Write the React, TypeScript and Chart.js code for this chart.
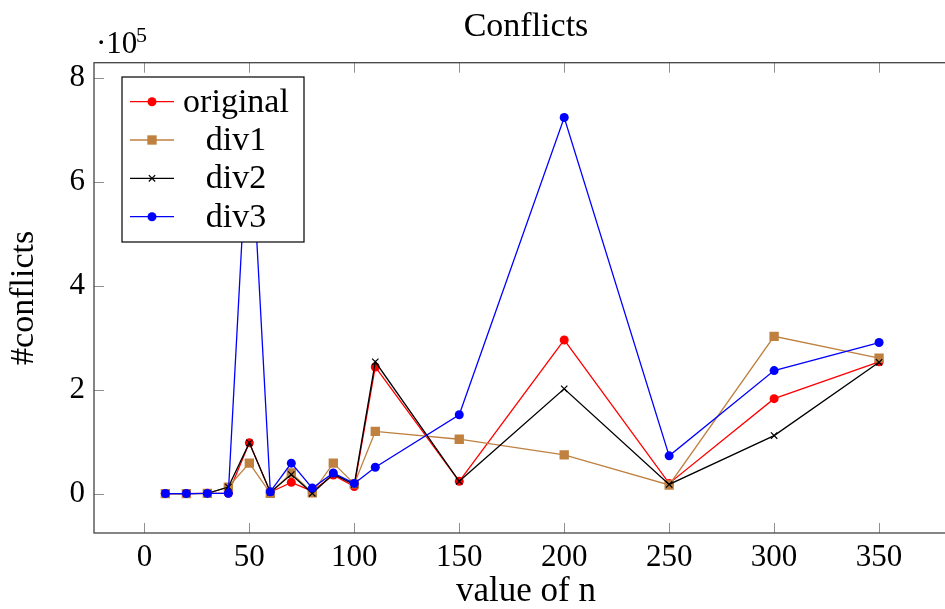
import React, { useEffect, useRef } from 'react';
import { Chart, registerables } from 'chart.js';

Chart.register(...registerables);

// ---- data ----
const nValues = [10, 20, 30, 40, 50, 60, 70, 80, 90, 100, 110, 150, 200, 250, 300, 350];
const original = [500, 500, 1000, 1000, 98000, 3000, 22000, 5000, 36000, 14000, 244000, 24000, 296000, 20000, 183000, 254000];
const div1 = [500, 500, 800, 13000, 59000, 1000, 40000, 2000, 59000, 19000, 120000, 105000, 75000, 17000, 303000, 261000];
const div2 = [500, 500, 800, 13000, 98000, 3000, 37000, 1000, 38000, 18000, 254000, 24000, 202000, 18000, 112000, 253000];
const div3 = [500, 500, 800, 1000, 754000, 4000, 59000, 11000, 40000, 20000, 51000, 152000, 724000, 73000, 237000, 291000];
const seriesNames = ['original', 'div1', 'div2', 'div3'];
const xTickValues = [0, 50, 100, 150, 200, 250, 300, 350];
const yTickValues = [0, 200000, 400000, 600000, 800000];
const titleText = 'Conflicts';
const xTitle = 'value of n';
const yTitle = '#conflicts';

const X_MIN = -24;
const X_MAX = 387.6;
const Y_MIN = -75400;
const Y_MAX = 829400;

const FONT = "'Liberation Serif', 'Times New Roman', serif";
const COLORS = ['#ff0000', '#bf8040', '#000000', '#0000ff'];
const STYLES = ['circle', 'rect', 'crossRot', 'circle'];
const RADII = [4.5, 6.6, 4.5, 4.5];

function drawMarker(ctx: CanvasRenderingContext2D, style: string, x: number, y: number, r: number, color: string) {
  ctx.save();
  ctx.fillStyle = color;
  ctx.strokeStyle = color;
  if (style === 'circle') {
    ctx.beginPath();
    ctx.arc(x, y, r, 0, Math.PI * 2);
    ctx.fill();
  } else if (style === 'rect') {
    const s = Math.SQRT1_2 * r;
    ctx.fillRect(x - s, y - s, 2 * s, 2 * s);
  } else {
    const s = Math.SQRT1_2 * r;
    ctx.lineWidth = 1.2;
    ctx.beginPath();
    ctx.moveTo(x - s, y - s);
    ctx.lineTo(x + s, y + s);
    ctx.moveTo(x - s, y + s);
    ctx.lineTo(x + s, y - s);
    ctx.stroke();
  }
  ctx.restore();
}

const decorPlugin = {
  id: 'decor',
  afterDatasetsDraw(chart: any) {
    const { ctx, chartArea: a, scales } = chart;
    ctx.save();
    // inward tick marks
    ctx.strokeStyle = '#909090';
    ctx.lineWidth = 1;
    ctx.beginPath();
    for (const v of xTickValues) {
      const px = Math.round(scales.x.getPixelForValue(v)) + 0.5;
      ctx.moveTo(px, a.top);
      ctx.lineTo(px, a.top + 10);
      ctx.moveTo(px, a.bottom);
      ctx.lineTo(px, a.bottom - 10);
    }
    for (const v of yTickValues) {
      const py = Math.round(scales.y.getPixelForValue(v)) + 0.5;
      ctx.moveTo(a.left, py);
      ctx.lineTo(a.left + 10, py);
      ctx.moveTo(a.right, py);
      ctx.lineTo(a.right - 10, py);
    }
    ctx.stroke();
    // frame
    ctx.strokeStyle = '#444444';
    ctx.lineWidth = 1.3;
    ctx.strokeRect(a.left, a.top, a.right - a.left, a.bottom - a.top);

    // legend
    const lx = 122, ly = 77, lw = 182, lh = 165;
    ctx.fillStyle = '#ffffff';
    ctx.fillRect(lx, ly, lw, lh);
    ctx.strokeStyle = '#000000';
    ctx.lineWidth = 1.2;
    ctx.strokeRect(lx, ly, lw, lh);
    const rowY = [101.7, 140, 178.3, 216.7];
    ctx.font = `34px ${FONT}`;
    ctx.textAlign = 'center';
    ctx.textBaseline = 'middle';
    seriesNames.forEach((name, i) => {
      const y = rowY[i];
      ctx.strokeStyle = COLORS[i];
      ctx.lineWidth = 1.3;
      ctx.beginPath();
      ctx.moveTo(130, y);
      ctx.lineTo(174, y);
      ctx.stroke();
      drawMarker(ctx, STYLES[i], 152, y, RADII[i], COLORS[i]);
      ctx.fillStyle = '#000000';
      ctx.fillText(name, 236, y + 1);
    });

    // title
    ctx.fillStyle = '#000000';
    ctx.textAlign = 'center';
    ctx.textBaseline = 'alphabetic';
    ctx.font = `34px ${FONT}`;
    ctx.fillText(titleText, (a.left + a.right) / 2, 36);

    // exponent label
    ctx.textAlign = 'left';
    ctx.font = `31px ${FONT}`;
    ctx.fillText('\u00B710', 96, 53);
    ctx.font = `22px ${FONT}`;
    ctx.fillText('5', 136, 42);
    ctx.restore();
  },
};

export default function App() {
  const canvasRef = useRef<HTMLCanvasElement | null>(null);

  useEffect(() => {
    const canvas = canvasRef.current;
    if (!canvas) return;
    const series = [original, div1, div2, div3];
    const datasets = series.map((vals, i) => ({
      label: seriesNames[i],
      data: nValues.map((n, j) => ({ x: n, y: vals[j] })),
      borderColor: COLORS[i],
      backgroundColor: COLORS[i],
      borderWidth: 1.3,
      pointStyle: STYLES[i] as any,
      pointRadius: RADII[i],
      pointBorderWidth: i === 2 ? 1.2 : 0,
      pointBorderColor: COLORS[i],
      pointBackgroundColor: COLORS[i],
      tension: 0,
      fill: false,
      order: 4 - i,
    }));

    const chart = new Chart(canvas, {
      type: 'line',
      data: { datasets },
      options: {
        animation: false,
        responsive: false,
        devicePixelRatio: 1,
        layout: { padding: { left: 0, right: 12, top: 62.7, bottom: 0 } },
        plugins: {
          legend: { display: false },
          title: { display: false },
          tooltip: { enabled: false },
        },
        scales: {
          x: {
            type: 'linear',
            min: X_MIN,
            max: X_MAX,
            grid: { display: false, drawTicks: false },
            border: { display: false },
            afterFit: (s: any) => { s.height = 76; },
            afterBuildTicks: (s: any) => { s.ticks = xTickValues.map((v) => ({ value: v })); },
            ticks: {
              padding: 6,
              color: '#000000',
              font: { family: FONT, size: 31 },
              maxRotation: 0,
              callback: (v: any) => String(v),
            },
            title: {
              display: true,
              text: xTitle,
              color: '#000000',
              font: { family: FONT, size: 35, lineHeight: 1.0 },
              padding: { top: 0, bottom: 0 },
            },
          },
          y: {
            type: 'linear',
            min: Y_MIN,
            max: Y_MAX,
            grid: { display: false, drawTicks: false },
            border: { display: false },
            afterFit: (s: any) => { s.width = 94; },
            afterBuildTicks: (s: any) => { s.ticks = yTickValues.map((v) => ({ value: v })); },
            ticks: {
              padding: 9,
              color: '#000000',
              font: { family: FONT, size: 31 },
              callback: (v: any) => String(Math.round(Number(v) / 100000)),
            },
            title: {
              display: true,
              text: yTitle,
              color: '#000000',
              font: { family: FONT, size: 34 },
              padding: { top: 4, bottom: 0 },
            },
          },
        },
      },
      plugins: [decorPlugin],
    });
    return () => chart.destroy();
  }, []);

  return (
    <div style={{ position: 'fixed', left: 0, top: 0, width: 945, height: 609, overflow: 'hidden', background: '#ffffff' }}>
      <canvas ref={canvasRef} width={970} height={609} style={{ width: 970, height: 609, display: 'block' }} />
    </div>
  );
}
